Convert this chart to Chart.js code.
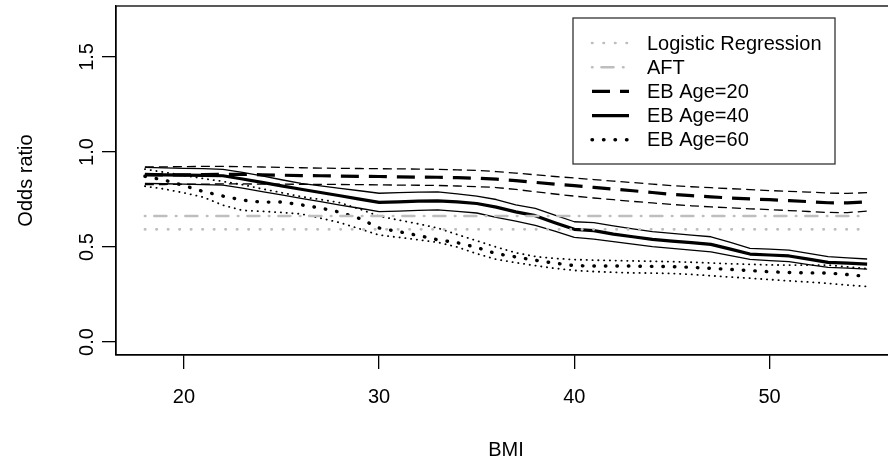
<!DOCTYPE html>
<html>
<head>
<meta charset="utf-8">
<title>Odds ratio by BMI</title>
<script src="https://cdn.jsdelivr.net/npm/chart.js@4/dist/chart.umd.min.js"></script>
<style>
  html, body { margin: 0; padding: 0; background: #fff; overflow: hidden; }
  #wrap { position: absolute; left: 0; top: 0; width: 900px; height: 464px; }
</style>
</head>
<body>
<div id="wrap"><canvas id="orChart"></canvas></div>
<script>
// BMI grid the empirical Bayes curves are evaluated on
const bmi = [18,19,20,21,22,23,24,25,26,27,28,29,30,31,32,33,34,35,36,37,
             38,39,40,41,42,43,44,45,46,47,48,49,50,51,52,53,54,55];

// EB odds ratio and its band, age 20
const eb20   = [.879,.880,.880,.881,.882,.882,.880,.878,.876,.875,.873,.872,.871,.869,.868,.867,.865,.862,.857,.849,
                .840,.831,.823,.814,.805,.796,.787,.777,.770,.764,.758,.753,.749,.744,.739,.733,.732,.738];
const eb20Hi = [.921,.922,.923,.924,.924,.923,.921,.919,.917,.915,.914,.913,.912,.911,.910,.909,.906,.903,.897,.889,
                .880,.871,.863,.855,.847,.839,.831,.823,.817,.812,.807,.802,.797,.793,.789,.784,.782,.786];
const eb20Lo = [.828,.829,.830,.831,.832,.832,.831,.831,.830,.830,.829,.828,.827,.826,.825,.824,.821,.818,.813,.803,
                .791,.779,.768,.758,.749,.740,.732,.724,.717,.711,.706,.701,.697,.692,.687,.682,.681,.689];

// age 40
const eb40   = [.882,.880,.878,.877,.875,.858,.840,.822,.804,.787,.770,.752,.735,.738,.741,.743,.738,.729,.710,.685,
                .665,.628,.593,.586,.568,.554,.540,.531,.523,.514,.489,.463,.458,.453,.436,.419,.415,.410];
const eb40Hi = [.919,.916,.914,.912,.909,.893,.874,.854,.835,.822,.809,.796,.783,.786,.789,.790,.780,.768,.750,.722,
                .703,.668,.633,.628,.611,.596,.581,.572,.563,.554,.524,.493,.489,.484,.467,.449,.443,.437];
const eb40Lo = [.835,.833,.831,.828,.826,.810,.792,.774,.756,.739,.721,.704,.686,.689,.693,.695,.688,.679,.656,.636,
                .614,.584,.551,.542,.528,.515,.502,.493,.484,.475,.455,.435,.429,.423,.408,.393,.389,.384];

// age 60
const eb60   = [.872,.852,.823,.792,.768,.747,.736,.737,.722,.705,.683,.650,.600,.581,.561,.538,.523,.498,.465,.448,
                .430,.415,.402,.400,.400,.400,.398,.397,.393,.388,.382,.376,.370,.366,.364,.363,.355,.345];
const eb60Hi = [.910,.893,.877,.860,.845,.828,.806,.786,.765,.750,.733,.700,.662,.642,.622,.600,.566,.533,.500,.470,
                .450,.440,.434,.431,.429,.427,.425,.423,.420,.416,.412,.409,.406,.405,.405,.405,.396,.386];
const eb60Lo = [.820,.805,.785,.762,.720,.693,.688,.682,.674,.652,.628,.596,.563,.551,.538,.525,.500,.465,.435,.418,
                .402,.388,.377,.371,.367,.364,.363,.361,.356,.349,.342,.336,.329,.322,.316,.309,.300,.292];

// constant odds ratios from the two reference models
const logisticOR = 0.593;
const aftOR = 0.663;

const xTicks = [20, 30, 40, 50];
const yTicks = [0, 0.5, 1.0, 1.5];
const legendLabels = ['Logistic Regression', 'AFT', 'EB Age=20', 'EB Age=40', 'EB Age=60'];

const FONT_FAMILY = "'Liberation Sans', Arial, Helvetica, sans-serif";
const GREY = '#bebebe';

// line looks (R lty / lwd equivalents)
const sty = {
  logistic: { color: GREY,   width: 2.6, dash: [0.5, 11], cap: 'round' },
  aft:      { color: GREY,   width: 2.6, dash: [0.5, 9, 12, 9.5], cap: 'round' },
  dashed:   { color: '#000', width: 3.2, dash: [18, 10], cap: 'butt' },
  solid:    { color: '#000', width: 3.2, dash: [], cap: 'butt' },
  dotted:   { color: '#000', width: 3.4, dash: [0.5, 11], cap: 'round' },
  dashedThin: { color: '#000', width: 1.3, dash: [9, 5], cap: 'butt' },
  solidThin:  { color: '#000', width: 1.3, dash: [], cap: 'butt' },
  dottedThin: { color: '#000', width: 1.8, dash: [0.3, 5.5], cap: 'round' }
};

function pts(ys) { return bmi.map((x, i) => ({ x: x, y: ys[i] })); }
function flat(v) { return [{ x: bmi[0], y: v }, { x: bmi[bmi.length - 1], y: v }]; }

function ds(label, data, s) {
  return {
    label: label,
    data: data,
    borderColor: s.color,
    borderWidth: s.width,
    borderDash: s.dash,
    borderCapStyle: s.cap,
    borderJoinStyle: 'round',
    pointRadius: 0,
    fill: false,
    tension: 0
  };
}

const datasets = [
  ds('Logistic Regression', flat(logisticOR), sty.logistic),
  ds('AFT', flat(aftOR), sty.aft),
  ds('EB Age=20', pts(eb20), sty.dashed),
  ds('EB Age=40', pts(eb40), sty.solid),
  ds('EB Age=60', pts(eb60), sty.dotted),
  ds('EB Age=20 upper', pts(eb20Hi), sty.dashedThin),
  ds('EB Age=20 lower', pts(eb20Lo), sty.dashedThin),
  ds('EB Age=40 upper', pts(eb40Hi), sty.solidThin),
  ds('EB Age=40 lower', pts(eb40Lo), sty.solidThin),
  ds('EB Age=60 upper', pts(eb60Hi), sty.dottedThin),
  ds('EB Age=60 lower', pts(eb60Lo), sty.dottedThin)
];

// box around the plot, rotated y labels and the boxed legend
const framePlugin = {
  id: 'framePlugin',
  afterDraw(chart) {
    const { ctx, chartArea: a, scales } = chart;
    ctx.save();
    ctx.strokeStyle = '#000';
    ctx.lineWidth = 1.3;
    ctx.setLineDash([]);
    ctx.strokeRect(a.left, a.top, a.right - a.left, a.bottom - a.top);

    ctx.font = '20px ' + FONT_FAMILY;
    ctx.fillStyle = '#000';
    ctx.textAlign = 'center';
    ctx.textBaseline = 'alphabetic';
    yTicks.forEach(v => {
      const py = scales.y.getPixelForValue(v);
      ctx.save();
      ctx.translate(a.left - 23, py);
      ctx.rotate(-Math.PI / 2);
      ctx.fillText(v.toFixed(1), 0, 0);
      ctx.restore();
    });

    // legend
    const bx = 573, by = 18, bw = 262, bh = 146;
    ctx.fillStyle = '#fff';
    ctx.fillRect(bx, by, bw, bh);
    ctx.lineWidth = 1.3;
    ctx.strokeStyle = '#333';
    ctx.strokeRect(bx, by, bw, bh);
    const looks = [sty.logistic, sty.aft, sty.dashed, sty.solid, sty.dotted];
    legendLabels.forEach((lab, i) => {
      const y = by + 25 + i * 24.2;
      const s = looks[i];
      ctx.save();
      ctx.strokeStyle = s.color;
      ctx.lineWidth = s.width;
      ctx.setLineDash(s.dash);
      ctx.lineCap = s.cap;
      ctx.beginPath();
      ctx.moveTo(592, y);
      ctx.lineTo(629, y);
      ctx.stroke();
      ctx.restore();
      ctx.fillStyle = '#000';
      ctx.textAlign = 'left';
      ctx.textBaseline = 'middle';
      ctx.fillText(lab, 647, y + 1);
    });
    ctx.restore();
  }
};

new Chart(document.getElementById('orChart'), {
  type: 'line',
  data: { datasets: datasets },
  options: {
    animation: false,
    responsive: true,
    maintainAspectRatio: false,
    layout: { padding: { top: 6, right: 4, left: 0, bottom: 0 } },
    plugins: { legend: { display: false }, tooltip: { enabled: false } },
    scales: {
      x: {
        type: 'linear',
        min: 16.52,
        max: 56.48,
        afterBuildTicks: s => { s.ticks = xTicks.map(v => ({ value: v })); },
        afterFit: s => { s.height = 109; },
        grid: { drawOnChartArea: false, drawTicks: true, tickLength: 14, color: '#000', lineWidth: 1.3 },
        border: { display: true, color: '#000', width: 1.3 },
        ticks: {
          color: '#000',
          padding: 16,
          maxRotation: 0,
          font: { family: FONT_FAMILY, size: 20 },
          callback: v => String(v)
        },
        title: {
          display: true,
          text: 'BMI',
          color: '#000',
          font: { family: FONT_FAMILY, size: 20 },
          padding: { top: 0, bottom: 2 }
        }
      },
      y: {
        type: 'linear',
        min: -0.068,
        max: 1.768,
        afterBuildTicks: s => { s.ticks = yTicks.map(v => ({ value: v })); },
        afterFit: s => { s.width = 116; },
        grid: { drawOnChartArea: false, drawTicks: true, tickLength: 14, color: '#000', lineWidth: 1.3 },
        border: { display: true, color: '#000', width: 1.3 },
        ticks: { display: false },
        title: {
          display: true,
          text: 'Odds ratio',
          color: '#000',
          font: { family: FONT_FAMILY, size: 20 },
          padding: { top: 14, bottom: 0 }
        }
      }
    }
  },
  plugins: [framePlugin]
});
</script>
</body>
</html>
